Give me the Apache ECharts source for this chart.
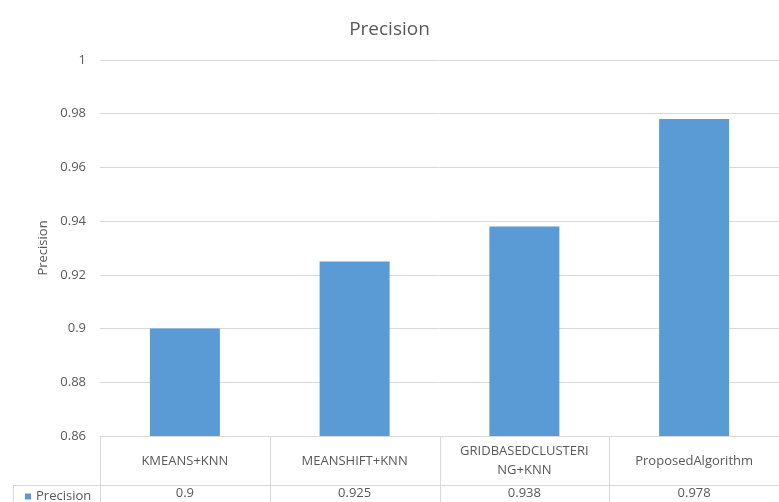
<!DOCTYPE html>
<html>
<head>
<meta charset="utf-8">
<script src="https://cdn.jsdelivr.net/npm/echarts@6/dist/echarts.min.js"></script>
<style>
  html, body { margin: 0; padding: 0; background: #fff; }
  #chart { width: 779px; height: 502px; }
</style>
</head>
<body>
<div id="chart"></div>
<script>
// Precision of each method
const categories = ['KMEANS+KNN', 'MEANSHIFT+KNN', 'GRIDBASEDCLUSTERING+KNN', 'ProposedAlgorithm'];
const precision = [0.9, 0.925, 0.938, 0.978];
const seriesName = 'Precision';
const yMin = 0.86, yMax = 1, yStep = 0.02;

const FONT = '"Open Sans", "Noto Sans", sans-serif';
const TEXT = '#595959';
const LINE = '#d9d9d9';
const BAR = '#5b9bd5';

const chart = echarts.init(document.getElementById('chart'));

// wrap long category names the way a narrow table cell would
function wrapName(s) {
  return s.length > 18 ? s.slice(0, 17) + '\n' + s.slice(17) : s;
}

chart.setOption({
  animation: false,
  textStyle: { fontFamily: FONT },
  title: {
    text: 'Precision',
    left: 'center',
    top: 15,
    textStyle: { fontFamily: FONT, fontSize: 19, fontWeight: 'normal', color: TEXT }
  },
  legend: {
    data: [seriesName],
    left: 20,
    top: 485,
    icon: 'rect',
    itemWidth: 6,
    itemHeight: 6,
    itemGap: 4,
    textStyle: { fontFamily: FONT, fontSize: 13, color: TEXT }
  },
  grid: { left: 100, top: 60, width: 688, height: 376 },
  xAxis: [
    {
      type: 'category',
      data: categories,
      position: 'bottom',
      axisLine: { lineStyle: { color: LINE } },
      axisTick: { show: false },
      axisLabel: {
        margin: 25,
        verticalAlign: 'middle',
        fontSize: 13,
        lineHeight: 19,
        color: TEXT,
        formatter: wrapName
      }
    },
    {
      type: 'category',
      data: categories,
      position: 'bottom',
      offset: 49,
      axisLine: { show: false },
      axisTick: { show: false },
      axisLabel: {
        margin: 2,
        fontSize: 13,
        color: TEXT,
        formatter: (v, i) => String(precision[i])
      }
    }
  ],
  yAxis: {
    type: 'value',
    min: yMin,
    max: yMax,
    interval: yStep,
    name: 'Precision',
    nameLocation: 'middle',
    nameGap: 49,
    nameTextStyle: { fontFamily: FONT, fontSize: 13, color: TEXT },
    axisLine: { show: false },
    axisTick: { show: false },
    axisLabel: {
      margin: 14,
      fontSize: 13,
      color: TEXT,
      formatter: v => String(+v.toFixed(2))
    },
    splitLine: { lineStyle: { color: LINE } }
  },
  series: [{
    name: seriesName,
    type: 'bar',
    data: precision,
    barWidth: 70,
    itemStyle: { color: BAR }
  }]
});

// data-table rules under the plot
function drawTable() {
  const c0 = chart.convertToPixel({ xAxisIndex: 0 }, categories[0]);
  const c1 = chart.convertToPixel({ xAxisIndex: 0 }, categories[1]);
  const band = c1 - c0;
  const left = c0 - band / 2;
  const top = chart.convertToPixel({ yAxisIndex: 0 }, yMin);
  const rowY = top + 49;
  const bottom = chart.getHeight();
  const right = chart.getWidth();
  const style = { stroke: LINE, lineWidth: 1 };
  const els = [];
  for (let i = 0; i < categories.length; i++) {
    const x = Math.round(left + band * i) + 0.5;
    els.push({ type: 'line', shape: { x1: x, y1: top, x2: x, y2: bottom }, style });
  }
  els.push({ type: 'line', shape: { x1: 13, y1: rowY + 0.5, x2: right, y2: rowY + 0.5 }, style });
  els.push({ type: 'line', shape: { x1: 13.5, y1: rowY, x2: 13.5, y2: bottom }, style });
  chart.setOption({ graphic: els });
}
drawTable();
</script>
</body>
</html>
